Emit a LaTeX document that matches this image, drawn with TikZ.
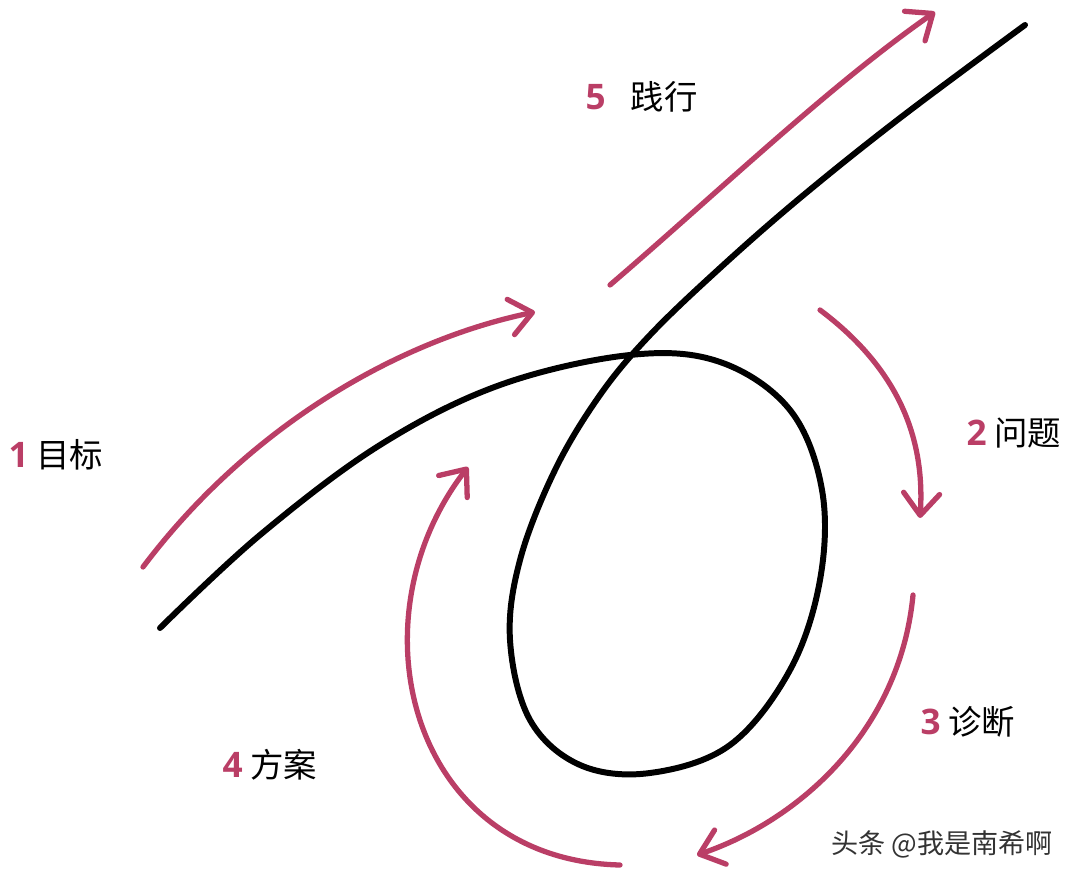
\documentclass[tikz,border=0pt]{standalone}
\usepackage{fontspec}
\setmainfont{Noto Sans CJK SC}
\newfontfamily\zifferfont{Open Sans}
\usepackage{tikz}
\usetikzlibrary{arrows.meta}
\definecolor{rosa}{RGB}{186,62,102}

\newcommand{\nr}[1]{\textcolor{rosa}{\zifferfont\bfseries\fontsize{10pt}{11pt}\selectfont #1}}

\tikzset{
	loopline/.style={line width=1.7pt,black,line cap=round},
	stepline/.style={line width=1.5pt,rosa,line cap=round,
		-{Straight Barb[length=2.2mm,width=3.6mm,line width=1.5pt,round]}},
	steplabel/.style={anchor=west,inner sep=0pt,font=\fontsize{9.5pt}{10pt}\selectfont}
}

\begin{document}
\begin{tikzpicture}[x=0.01cm,y=-0.01cm]
	\useasboundingbox (0,0) rectangle (1080,880);

	% the loop
	\draw [loopline] plot [smooth,tension=0.6] coordinates {
		(160,628) (260,535) (380,445) (500,385) (630,355) (720,362)
		(790,410) (822,490) (820,580) (790,670) (730,745) (650,773)
		(580,765) (530,720) (510,640) (520,560) (555,470) (600,395)
		(650,335) (720,268) (800,198) (900,118) (1025,25)};

	% the steps
	\coordinate (einsA) at (143,567);
	\coordinate (einsB) at (535,312);
	\coordinate (zweiA) at (820,310);
	\coordinate (zweiB) at (920,518);
	\coordinate (dreiA) at (913,595);
	\coordinate (dreiB) at (697,855);
	\coordinate (vierA) at (620,865);
	\coordinate (vierB) at (468,467);
	\coordinate (fuenfA) at (610,285);
	\coordinate (fuenfB) at (935,12);

	\draw [stepline] (einsA) .. controls (250,425) and (400,340) .. (einsB);
	\draw [stepline] (zweiA) .. controls (900,370) and (925,440) .. (zweiB);
	\draw [stepline] (dreiA) .. controls (900,730) and (800,820) .. (dreiB);
	\draw [stepline] (vierA) .. controls (410,860) and (350,620) .. (vierB);
	\draw [stepline] (fuenfA) .. controls (715,195) and (830,85) .. (fuenfB);

	\node [steplabel] (ziel) at (8,455) {\nr{1} 目标};
	\node [steplabel] (frage) at (966,433) {\nr{2} 问题};
	\node [steplabel] (befund) at (920,722) {\nr{3} 诊断};
	\node [steplabel] (plan) at (222,765) {\nr{4} 方案};
	\node [steplabel] (tat) at (585,97) {\nr{5}\hspace{5pt} 践行};

	\node [anchor=west,inner sep=0pt,text=black!80,
		font=\fontsize{7.7pt}{8pt}\selectfont] (marke) at (831,844) {头条 @我是南希啊};
\end{tikzpicture}
\end{document}
